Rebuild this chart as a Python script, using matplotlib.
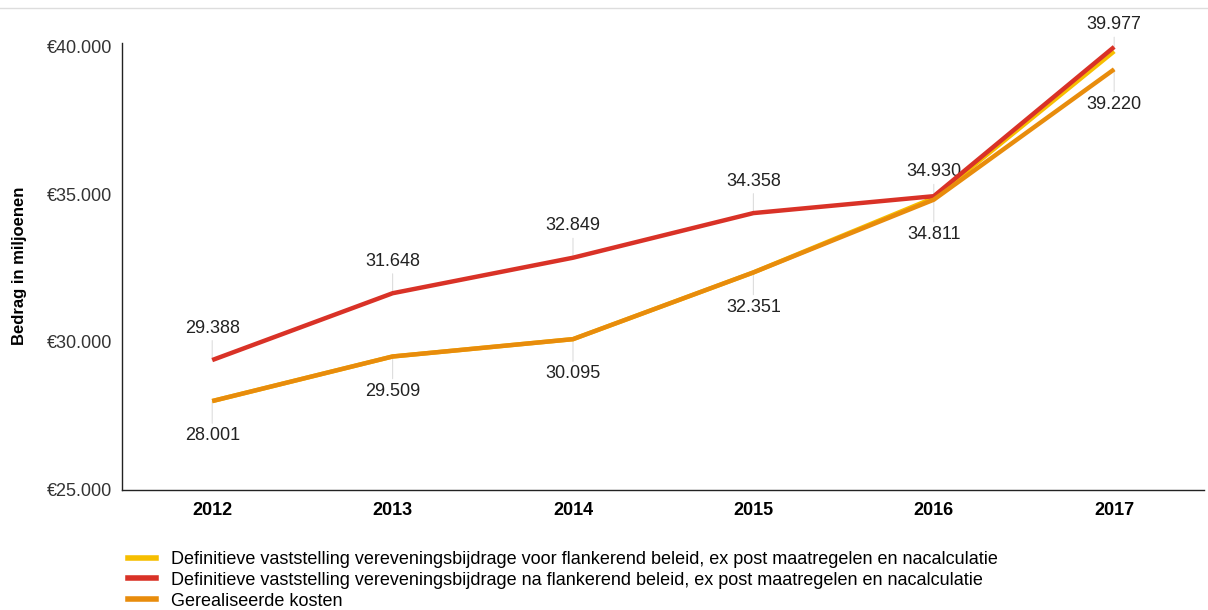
import matplotlib.pyplot as plt
from matplotlib.lines import Line2D

plt.rcParams["font.family"] = ["Liberation Sans", "DejaVu Sans"]

years = ["2012", "2013", "2014", "2015", "2016", "2017"]
voor_flankerend = [28001, 29509, 30095, 32351, 34870, 39830]
na_flankerend = [29388, 31648, 32849, 34358, 34930, 39977]
gerealiseerd = [28001, 29509, 30095, 32351, 34811, 39220]

legend_labels = [
    "Definitieve vaststelling vereveningsbijdrage voor flankerend beleid, ex post maatregelen en nacalculatie",
    "Definitieve vaststelling vereveningsbijdrage na flankerend beleid, ex post maatregelen en nacalculatie",
    "Gerealiseerde kosten",
]
colors = ["#F6BE00", "#D93227", "#E88C0C"]


def fmt(v):
    return f"{v:,}".replace(",", ".")


fig = plt.figure(figsize=(12.08, 6.10), dpi=100)
ax = fig.add_axes([0.101, 0.197, 0.896, 0.733])

x = list(range(len(years)))
ax.plot(x, voor_flankerend, color=colors[0], lw=3.2, solid_capstyle="butt", zorder=3)
ax.plot(x, na_flankerend, color=colors[1], lw=3.2, solid_capstyle="butt", zorder=4)
ax.plot(x, gerealiseerd, color=colors[2], lw=3.2, solid_capstyle="butt", zorder=5)

# labels: red above, orange below, with faint leader lines
red_offsets = [23, 23, 23, 23, 17.5, 16]
for i, v in enumerate(na_flankerend):
    off = red_offsets[i]
    ax.annotate(fmt(v), (i, v), xytext=(0, off), textcoords="offset points",
                ha="center", va="center", fontsize=13, color="#222222")
    ax.annotate("", (i, v), xytext=(0, off - 9), textcoords="offset points",
                arrowprops=dict(arrowstyle="-", color="#dddddd", lw=0.8,
                                shrinkA=0, shrinkB=0), zorder=2)
for i, v in enumerate(gerealiseerd):
    ax.annotate(fmt(v), (i, v), xytext=(0, -25), textcoords="offset points",
                ha="center", va="center", fontsize=13, color="#222222")
    ax.annotate("", (i, v), xytext=(0, -16), textcoords="offset points",
                arrowprops=dict(arrowstyle="-", color="#dddddd", lw=0.8,
                                shrinkA=0, shrinkB=0), zorder=2)

ax.set_xlim(-0.5, 5.5)
ax.set_ylim(25000, 40120)
ax.set_xticks(x)
ax.set_xticklabels(years, fontweight="bold", fontsize=13)
ax.set_yticks([25000, 30000, 35000, 40000])
ax.set_yticklabels(["€" + fmt(t) for t in [25000, 30000, 35000, 40000]], fontsize=13, color="#333333")
ax.tick_params(axis="x", length=0, pad=9)
ax.tick_params(axis="y", length=0, pad=7)
for s in ["top", "right"]:
    ax.spines[s].set_visible(False)
for s in ["left", "bottom"]:
    ax.spines[s].set_color("#222222")
    ax.spines[s].set_linewidth(1)
ax.set_ylabel("Bedrag in miljoenen", fontweight="bold", fontsize=12)
ax.yaxis.set_label_coords(-0.088, 0.5)

# thin top border line
fig.add_artist(Line2D([0, 1], [0.987, 0.987], color="#dddddd", lw=1, transform=fig.transFigure))

handles = [Line2D([], [], color=c, lw=4) for c in colors]
fig.legend(handles, legend_labels, loc="upper left", bbox_to_anchor=(0.106, 0.097),
           frameon=False, fontsize=13, handlelength=1.55, handletextpad=0.85,
           labelspacing=0.22, borderpad=0, borderaxespad=0)

fig.savefig("out.png", dpi=100)
